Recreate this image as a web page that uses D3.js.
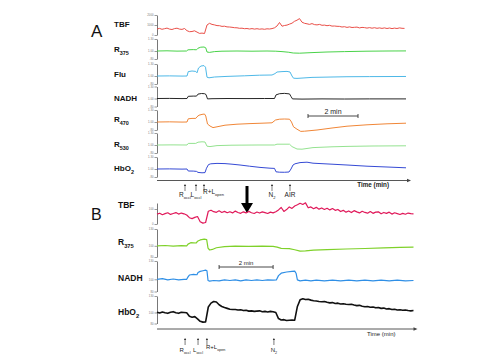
<!DOCTYPE html>
<html><head><meta charset="utf-8">
<script src="https://cdn.jsdelivr.net/npm/d3@7"></script>
<style>html,body{margin:0;padding:0;background:#fff;}svg{display:block;font-family:"Liberation Sans",Arial,sans-serif;}</style>
</head><body><svg id="c" width="480" height="360"></svg>
<script>
// ================= DATA =================
const panelNames = ["A", "B"];
const rowLabelsA = [{main:"TBF",sub:""},{main:"R",sub:"375"},{main:"Flu",sub:""},{main:"NADH",sub:""},{main:"R",sub:"470"},{main:"R",sub:"530"},{main:"HbO",sub:"2"}];
const rowLabelsB = [{main:"TBF",sub:""},{main:"R",sub:"375"},{main:"NADH",sub:""},{main:"HbO",sub:"2"}];
const ticksA_TBF = [0, 1000, 2000];
const ticksA_ratio = [0.8, 1.0, 1.3];
const ticksB_TBF = [0, 100];
const ticksB_pct = [80, 100, 130];
const timeLabel = "Time (min)";
const scaleBarMinutes = 2;
const scaleBarStartA = 6.04, scaleBarStartB = 2.3;
const eventsA = [{t:1.12,main:"R",sub:"occl"},{t:1.56,main:"L",sub:"occl"},{t:1.88,main:"R+L",sub:"open"},{t:4.6,main:"N",sub:"2"},{t:5.32,main:"AIR",sub:""}];
const eventsB = [{t:1.04,main:"R",sub:"occl"},{t:1.52,main:"L",sub:"occl"},{t:1.85,main:"R+L",sub:"open"},{t:4.33,main:"N",sub:"2"}];
const sampleStep = 0.1; // minutes between samples of the dense traces

// Panel A, TBF (sampled every 0.1 min)
const tbfA = [
 600,660,570,630,690,590,550,640,680,590,
 560,650,430,330,350,420,290,160,190,150,
 1000,1170,1060,1010,940,930,860,880,810,800,
 770,730,720,670,680,630,650,600,640,590,
 630,580,610,570,620,600,640,720,900,1250,
 880,950,990,1090,1180,1370,1480,1640,1280,1170,
 1120,1060,1140,1040,1010,1060,970,990,930,970,
 890,900,870,860,800,830,760,810,750,770,
 790,710,760,740,690,740,680,730,670,710,
 660,710,650,700,640,690,650,710,670,660];
// Panel A ratio traces [minute, value]
const r375A = [[0,1.0],[0.4,1.005],[0.8,0.997],[1.18,1.0],[1.24,1.03],[1.45,1.035],[1.58,1.03],[1.64,1.07],[1.75,1.095],[1.88,1.1],[1.95,1.08],[2.0,0.975],[2.1,0.965],[2.3,0.985],[2.6,0.995],[3.2,1.0],[3.8,0.995],[4.4,1.0],[4.75,0.995],[5.0,0.985],[5.25,0.97],[5.45,0.95],[5.7,0.945],[6.2,0.96],[6.8,0.975],[7.5,0.985],[8.4,0.995],[9.2,1.0],[9.96,1.002]];
const fluA = [[0,1.0],[0.5,1.003],[1.0,0.998],[1.2,1.0],[1.25,1.11],[1.4,1.125],[1.55,1.115],[1.6,1.08],[1.66,1.2],[1.76,1.25],[1.88,1.26],[1.94,1.22],[2.0,0.97],[2.08,0.955],[2.3,0.975],[2.8,0.99],[3.5,1.005],[4.1,1.02],[4.6,1.025],[4.72,1.06],[4.8,1.1],[5.0,1.11],[5.2,1.115],[5.32,1.1],[5.4,1.0],[5.46,0.945],[5.6,0.94],[6.2,0.965],[7.0,0.975],[7.6,0.982],[8.5,0.985],[9.96,0.988]];
const nadhA = [[0,1.0],[0.5,1.002],[1.0,0.998],[1.2,1.0],[1.25,1.055],[1.45,1.06],[1.58,1.06],[1.64,1.11],[1.78,1.125],[1.9,1.12],[1.96,1.1],[2.02,0.99],[2.2,0.995],[2.8,1.0],[3.6,0.998],[4.3,1.0],[4.7,1.0],[4.76,1.09],[4.9,1.12],[5.1,1.128],[5.3,1.115],[5.36,1.05],[5.42,0.99],[5.8,0.985],[6.6,0.99],[7.5,0.987],[8.5,0.99],[9.96,0.99]];
const r470A = [[0,1.0],[0.5,1.004],[1.0,0.998],[1.2,1.0],[1.25,1.08],[1.4,1.09],[1.55,1.09],[1.6,1.13],[1.68,1.17],[1.8,1.19],[1.9,1.2],[1.95,1.15],[2.02,0.95],[2.12,0.9],[2.24,0.86],[2.4,0.88],[2.72,0.92],[3.2,0.945],[3.72,0.96],[4.2,0.97],[4.6,0.98],[4.74,1.05],[4.9,1.07],[5.1,1.075],[5.3,1.07],[5.38,1.0],[5.46,0.88],[5.6,0.82],[5.75,0.765],[5.9,0.77],[6.4,0.8],[7.0,0.85],[7.6,0.895],[8.4,0.93],[9.2,0.955],[9.96,0.97]];
const r530A = [[0,1.0],[0.6,1.003],[1.2,1.0],[1.25,1.04],[1.55,1.04],[1.64,1.07],[1.8,1.08],[1.92,1.075],[2.0,0.97],[2.12,0.96],[2.4,0.985],[3.0,0.995],[4.0,1.0],[4.7,1.0],[4.8,1.02],[5.3,1.02],[5.4,0.96],[5.6,0.9],[5.8,0.895],[6.24,0.935],[7.0,0.955],[7.6,0.965],[8.6,0.975],[9.96,0.98]];
const hbo2A = [[0,1.0],[0.5,1.003],[1.0,0.997],[1.2,1.0],[1.25,0.95],[1.45,0.948],[1.58,0.94],[1.64,0.915],[1.8,0.905],[1.92,0.91],[1.98,1.02],[2.06,1.11],[2.15,1.13],[2.4,1.14],[2.72,1.135],[3.0,1.12],[3.32,1.1],[3.7,1.07],[4.12,1.04],[4.52,1.02],[4.7,1.015],[4.76,0.93],[4.9,0.92],[5.1,0.918],[5.28,0.925],[5.36,1.0],[5.44,1.1],[5.52,1.13],[5.72,1.16],[6.0,1.17],[6.24,1.145],[7.0,1.12],[7.6,1.1],[8.4,1.07],[9.2,1.05],[9.96,1.03]];

// Panel B, TBF and HbO2 (sampled every 0.1 min)
const tbfB = [
 66,72,62,69,75,64,70,76,66,73,
 68,60,42,36,44,50,15,6,10,85,
 92,82,78,88,77,84,75,82,74,86,
 77,71,81,74,84,75,70,80,73,81,
 76,70,79,74,82,94,110,84,96,114,
 104,120,128,138,130,141,108,114,102,111,
 99,107,97,105,94,103,91,97,83,91,
 79,87,76,89,81,74,85,77,72,83,
 71,79,81,68,77,71,79,66,75,69,
 63,71,65,73,69,67];
const hbo2B = [
 100.5,99,101,99.5,98.5,100.5,101.5,99.5,98.5,100.5,
 100,99.5,93,91.5,92.5,88.5,84,82.5,83,110,
 117,120,119,114,111,109,107.5,106,105.5,105.5,
 104.5,105,103.5,104,102.5,103,102,102.5,103,101.5,
 102,101,102,101.5,100,89,86.5,87,85.5,86,
 86.5,86,111,123,125,123.5,124,122.5,121.5,121,
 120,119.5,120,118.5,117.5,118,116.5,117,115.5,116,
 115,114.5,115,113.5,112.5,113,111.5,110.5,111,109.5,
 110,108.5,109,107.5,108,106.5,107,105.5,106,104.5,
 105,104,104.5,103.5,103,103.5];
// Panel B percent traces [minute, value]
const r375B = [[0,100],[0.3,100.5],[0.6,99.5],[0.9,100.3],[1.1,100],[1.15,103],[1.25,105.5],[1.45,105],[1.5,108],[1.6,110.5],[1.75,112],[1.84,111],[1.89,96],[1.95,92.5],[2.05,93.5],[2.2,96.5],[2.5,98.5],[2.9,99.5],[3.4,99],[3.9,99.5],[4.3,99],[4.45,97.5],[4.6,95.5],[4.9,95],[5.1,93],[5.3,90.5],[5.5,90.8],[5.8,92.3],[6.3,93],[7.0,94.3],[7.7,95.2],[8.4,96.4],[9.0,97.2],[9.5,97.7]];
const nadhB = [[0,100],[0.2,101],[0.4,99],[0.6,100.5],[0.8,99],[1.0,100],[1.1,100],[1.15,104],[1.2,107],[1.35,108],[1.48,107.5],[1.52,111],[1.6,113],[1.7,114],[1.8,115],[1.85,114],[1.89,98],[1.95,97],[2.1,98],[2.3,97.5],[2.5,99],[2.7,98],[2.9,99],[3.1,97.5],[3.3,99],[3.5,98],[3.7,99],[3.9,98],[4.1,99],[4.3,98.5],[4.42,99],[4.5,106],[4.6,110],[4.8,112],[5.0,113],[5.1,113.5],[5.15,110],[5.2,99],[5.3,97.5],[5.5,98.5],[5.7,97.5],[5.9,98.5],[6.2,97.5],[6.5,98.5],[6.8,97.5],[7.1,98.5],[7.4,97.5],[7.7,98.5],[8.0,97.5],[8.3,98.5],[8.6,97.5],[8.9,98.5],[9.2,97.5],[9.5,98]];

// ================= DRAWING =================
const FONT = '"Liberation Sans", Arial, sans-serif';
const svg = d3.select("#c");
svg.append("rect").attr("width",480).attr("height",360).attr("fill","#fff");

const xA = d3.scaleLinear().domain([0,10]).range([157,407]);
const xB = d3.scaleLinear().domain([0,9.5]).range([157,413.5]);
const AXIS_X = 157;

function grid(vals){ return vals.map((v,i)=>[i*sampleStep, v]); }
const fmtRatio = d => d < 1 ? d.toFixed(2).replace(/^0/,"") : d.toFixed(2);

function rowLabel(x, y, lab, size){
  const t = svg.append("text").attr("x",x).attr("y",y).attr("font-size",size)
    .attr("font-weight","bold").attr("fill","#111").attr("font-family",FONT);
  t.append("tspan").text(lab.main);
  if (lab.sub) t.append("tspan").attr("font-size",size*0.68).attr("dy",size*0.32).text(lab.sub);
}
function yAxis(y, ticks, fmt){
  const g = svg.append("g").attr("transform",`translate(${AXIS_X},0)`)
    .call(d3.axisLeft(y).tickValues(ticks).tickSize(2.5).tickSizeOuter(0).tickPadding(1).tickFormat(fmt));
  g.attr("font-size",2.8).attr("font-family",FONT);
  g.select(".domain").attr("stroke","#555").attr("stroke-width",0.8);
  g.selectAll(".tick line").attr("stroke","#555").attr("stroke-width",0.6);
  g.selectAll(".tick text").attr("fill","#777");
}
function trace(x, y, data, color, w){
  svg.append("path").datum(data).attr("fill","none").attr("stroke",color)
    .attr("stroke-width",w).attr("stroke-linejoin","round")
    .attr("d", d3.line().x(d=>x(d[0])).y(d=>y(d[1])));
}
function timeAxis(x, yPos, size, bold){
  const x0 = x.range()[0], x1 = x.range()[1] + 2;
  svg.append("line").attr("x1",x0).attr("x2",x1).attr("y1",yPos).attr("y2",yPos)
    .attr("stroke","#444").attr("stroke-width",0.9);
  svg.append("path").attr("d",`M${x1+2},${yPos} L${x1-2},${yPos-1.8} L${x1-2},${yPos+1.8} Z`).attr("fill","#444");
  svg.append("text").attr("x",x1-20).attr("y",yPos+6.8).attr("text-anchor","end")
    .attr("font-size",size).attr("font-weight",bold?"bold":"normal").attr("fill","#222")
    .attr("font-family",FONT).text(timeLabel);
}
function scaleBar(x, start, yPos, size){
  const a = x(start), b = x(start + scaleBarMinutes);
  svg.append("path").attr("d",`M${a},${yPos-2}V${yPos+2}M${a},${yPos}H${b}M${b},${yPos-2}V${yPos+2}`)
    .attr("stroke","#333").attr("stroke-width",0.9).attr("fill","none");
  svg.append("text").attr("x",(a+b)/2).attr("y",yPos-2.5).attr("text-anchor","middle")
    .attr("font-size",size).attr("fill","#222").attr("font-family",FONT).text(scaleBarMinutes + " min");
}
function events(x, evs, tipY, baseY, size){
  evs.forEach(e=>{
    const px = x(e.t);
    svg.append("line").attr("x1",px).attr("x2",px).attr("y1",tipY+1.5).attr("y2",tipY+7)
      .attr("stroke","#222").attr("stroke-width",0.6);
    svg.append("path").attr("d",`M${px},${tipY} L${px-1.1},${tipY+2} L${px+1.1},${tipY+2} Z`).attr("fill","#222");
    const open = e.sub === "open";
    const t = svg.append("text").attr("x", open ? px-1 : px).attr("y", open ? baseY-3 : baseY)
      .attr("text-anchor", open ? "start" : "middle").attr("font-size",size)
      .attr("fill","#222").attr("font-family",FONT);
    t.append("tspan").text(e.main);
    if (e.sub) t.append("tspan").attr("font-size",size*0.62).attr("dy",size*0.25).text(e.sub);
  });
}

// ---- Panel A ----
svg.append("text").attr("x",91).attr("y",37).attr("font-size",17).attr("fill","#111").attr("font-family",FONT).text(panelNames[0]);
const rowTopA = [15,39,64,86.5,110,133,157];
const labelYA = [27,52,76.5,100.5,122,147,171];
const tracesA = [tbfA, r375A, fluA, nadhA, r470A, r530A, hbo2A];
const colorsA = ["#e8473f","#3fd03f","#45b4e6","#1a1a1a","#ef7f2c","#8ee08a","#2a40d2"];
tracesA.forEach((tr,i)=>{
  const isTBF = i === 0;
  const y = d3.scaleLinear().domain(isTBF ? [0,2000] : [0.8,1.3]).range([rowTopA[i]+20, rowTopA[i]]);
  yAxis(y, isTBF ? ticksA_TBF : ticksA_ratio, isTBF ? d3.format("d") : fmtRatio);
  trace(xA, y, isTBF ? grid(tr) : tr, colorsA[i], 0.95);
  rowLabel(114, labelYA[i], rowLabelsA[i], 8);
});
timeAxis(xA, 180.5, 6.3, true);
scaleBar(xA, scaleBarStartA, 116, 7);
events(xA, eventsA, 184, 197, 6.5);

// big arrow between panels
svg.append("line").attr("x1",247).attr("x2",247).attr("y1",186).attr("y2",204).attr("stroke","#000").attr("stroke-width",3);
svg.append("path").attr("d","M241,203 L253,203 L247,213 Z").attr("fill","#000");

// ---- Panel B ----
svg.append("text").attr("x",91).attr("y",220).attr("font-size",16).attr("fill","#111").attr("font-family",FONT).text(panelNames[1]);
const rowsB = [
  {data:grid(tbfB), dom:[0,140], rng:[224,203], ticks:ticksB_TBF, color:"#e0195a", w:1.2, ly:208},
  {data:r375B, dom:[80,130], rng:[257,229], ticks:ticksB_pct, color:"#7fd12a", w:1.2, ly:245},
  {data:nadhB, dom:[80,130], rng:[291.5,261], ticks:ticksB_pct, color:"#2f8fe6", w:1.2, ly:281},
  {data:grid(hbo2B), dom:[80,130], rng:[323.5,296], ticks:ticksB_pct, color:"#111", w:1.6, ly:315}
];
rowsB.forEach((r,i)=>{
  const y = d3.scaleLinear().domain(r.dom).range(r.rng);
  yAxis(y, r.ticks, d3.format("d"));
  trace(xB, y, r.data, r.color, r.w);
  rowLabel(118, r.ly, rowLabelsB[i], 8.5);
});
timeAxis(xB, 329, 6, false);
scaleBar(xB, scaleBarStartB, 267, 6);
events(xB, eventsB, 338, 352, 6);
</script></body></html>
